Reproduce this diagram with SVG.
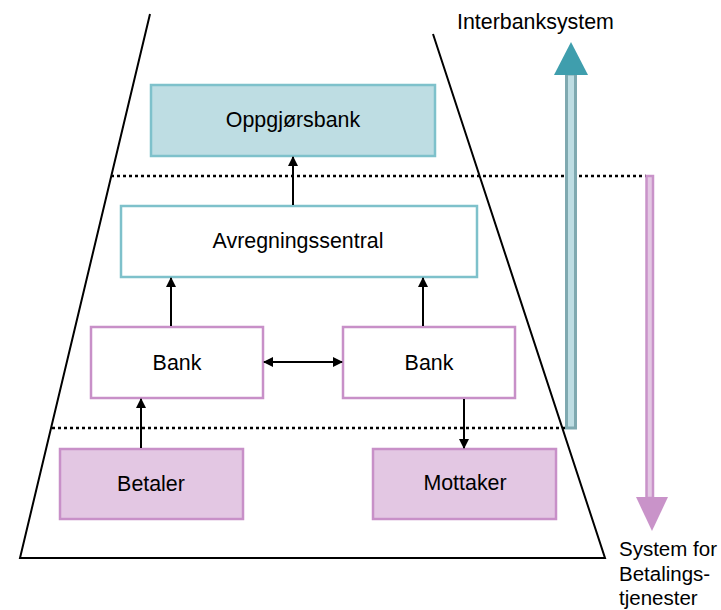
<svg xmlns="http://www.w3.org/2000/svg" width="721" height="610" viewBox="0 0 721 610">
<defs>
<marker id="ah" viewBox="0 0 10 10" refX="9" refY="5" markerWidth="10" markerHeight="10" markerUnits="userSpaceOnUse" orient="auto-start-reverse">
<path d="M0,0 L10,5 L0,10 Z" fill="#000"/>
</marker>
<style>
text{font-family:"Liberation Sans",Arial,sans-serif;font-size:21.4px;fill:#000}
.side{font-size:20.5px}
.lbl{text-anchor:middle}
.teal{fill:#BEDDE3;stroke:#7EC1CB;stroke-width:2.5}
.tealw{fill:#fff;stroke:#7EC1CB;stroke-width:2.5}
.purw{fill:#fff;stroke:#C890C8;stroke-width:2.5}
.pur{fill:#E3C7E3;stroke:#C890C8;stroke-width:2.5}
.con{stroke:#000;stroke-width:2;fill:none}
.dot{stroke:#000;stroke-width:2.5;stroke-dasharray:3 3;fill:none}
</style>
</defs>
<rect width="721" height="610" fill="#fff"/>
<g id="frame">
<path d="M150,14 L20,558 L605,558 L433,34" fill="none" stroke="#000" stroke-width="2"/>
<line class="dot" x1="111" y1="176" x2="646" y2="176"/>
<line class="dot" x1="52" y1="428" x2="566" y2="428"/>
</g>
<g id="interbank-arrow">
<rect x="566.5" y="74" width="9" height="354" fill="#BEDDE3" stroke="#7FA9B0" stroke-width="3"/>
<polygon points="554,75 571,42 588,75" fill="#3F9EAD"/>
<text x="457" y="29">Interbanksystem</text>
</g>
<g id="betaling-arrow">
<rect x="646.5" y="176" width="6.5" height="322" fill="#E3C7E3" stroke="#C993C9" stroke-width="2.5"/>
<polygon points="636,497 668,497 652,531" fill="#C993C9"/>
<text class="side" x="619" y="556">System for</text>
<text class="side" x="619" y="581">Betalings-</text>
<text class="side" x="619" y="605">tjenester</text>
</g>
<g id="oppgjorsbank">
<rect class="teal" x="151" y="85" width="284" height="71"/>
<text class="lbl" x="293" y="127">Oppgjørsbank</text>
</g>
<g id="avregningssentral">
<rect class="tealw" x="121" y="206" width="356" height="71"/>
<text class="lbl" x="298" y="248">Avregningssentral</text>
</g>
<g id="bank1">
<rect class="purw" x="91" y="327" width="172" height="71"/>
<text class="lbl" x="177" y="370">Bank</text>
</g>
<g id="bank2">
<rect class="purw" x="343" y="327" width="172" height="71"/>
<text class="lbl" x="429" y="370">Bank</text>
</g>
<g id="betaler">
<rect class="pur" x="60" y="449" width="183" height="70"/>
<text class="lbl" x="151" y="491">Betaler</text>
</g>
<g id="mottaker">
<rect class="pur" x="373" y="449" width="183" height="70"/>
<text class="lbl" x="465" y="490">Mottaker</text>
</g>
<g id="connectors">
<line class="con" x1="293" y1="205" x2="293" y2="157" marker-end="url(#ah)"/>
<line class="con" x1="171" y1="326" x2="171" y2="278" marker-end="url(#ah)"/>
<line class="con" x1="423" y1="326" x2="423" y2="278" marker-end="url(#ah)"/>
<line class="con" x1="264" y1="362" x2="342" y2="362" marker-start="url(#ah)" marker-end="url(#ah)"/>
<line class="con" x1="141" y1="448" x2="141" y2="399" marker-end="url(#ah)"/>
<line class="con" x1="464" y1="399" x2="464" y2="448" marker-end="url(#ah)"/>
</g>
</svg>
